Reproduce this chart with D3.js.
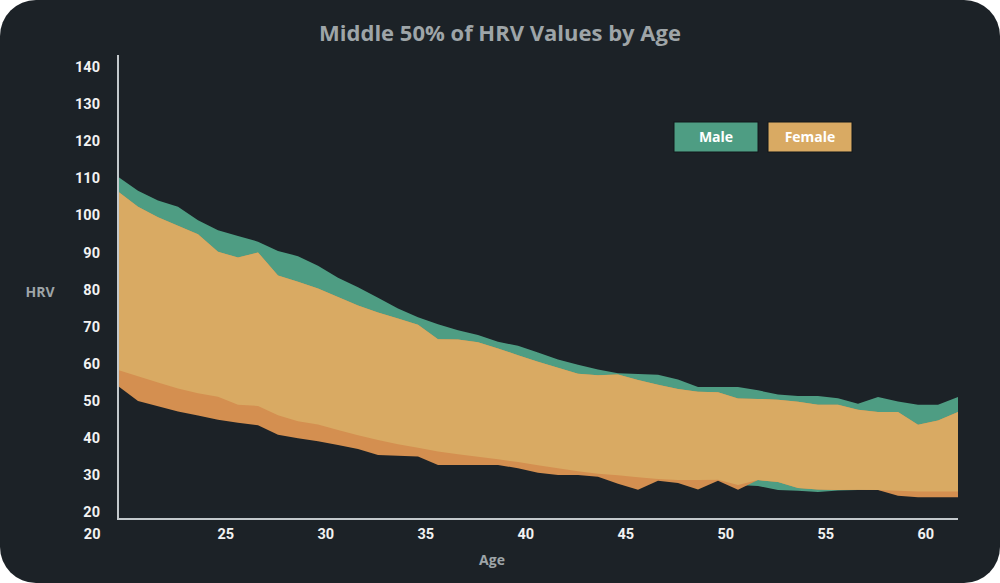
<!DOCTYPE html>
<html>
<head>
<meta charset="utf-8">
<script src="https://cdn.jsdelivr.net/npm/d3@7"></script>
<style>
  html, body { margin: 0; padding: 0; background: #ffffff; }
  #chart { width: 1000px; height: 583px; }
</style>
</head>
<body>
<div id="chart"></div>
<script>
// ages 20..62, middle 50% bounds
const ages = [20,21,22,23,24,25,26,27,28,29,30,31,32,33,34,35,36,37,38,39,40,
              41,42,43,44,45,46,47,48,49,50,51,52,53,54,55,56,57,58,59,60,61,62];

const maleHigh = [110.4,106.6,104.0,102.3,98.7,96.0,94.4,92.9,90.4,89.0,86.4,83.2,80.6,77.8,74.9,72.5,70.6,69.0,67.7,65.9,64.8,
                  63.0,61.1,59.7,58.4,57.4,57.2,57.0,55.7,53.7,53.7,53.7,52.8,51.7,51.3,51.3,50.7,49.2,51.0,49.8,48.9,48.9,51.0];
const maleLow  = [58.3,56.6,54.9,53.3,52.0,51.1,48.9,48.6,46.1,44.5,43.6,42.1,40.7,39.4,38.3,37.3,36.3,35.6,34.9,34.2,33.5,
                  32.6,31.8,31.0,30.3,29.9,29.4,28.9,28.6,28.6,28.7,27.3,27.0,25.9,25.7,25.4,25.8,25.9,25.9,25.7,25.5,25.5,25.5];
const femaleHigh = [106.4,102.3,99.5,97.2,94.9,90.2,88.6,90.0,83.8,82.1,80.3,78.0,75.7,73.8,72.2,70.5,66.6,66.5,65.8,64.1,62.3,
                    60.5,58.9,57.3,56.9,57.1,55.6,54.3,53.2,52.4,52.3,50.6,50.5,50.3,49.7,48.9,48.9,47.6,47.0,47.0,43.5,44.7,47.0];
const femaleLow  = [54.0,49.9,48.5,47.1,46.0,44.9,44.1,43.4,40.8,39.9,39.1,38.1,37.0,35.4,35.2,35.0,32.7,32.7,32.7,32.7,31.8,
                    30.6,30.0,30.0,29.5,27.6,26.0,28.4,27.8,26.1,28.4,26.0,28.6,28.1,26.5,26.1,25.9,26.0,25.9,24.4,24.0,24.0,24.0];

const yTicks = [20,30,40,50,60,70,80,90,100,110,120,130,140];
const xTicks = [20,25,30,35,40,45,50,55,60];

const COLORS = { bg: "#1c2227", male: "#4e9d83", female: "#d48f50", both: "#d9aa63",
                 axis: "#c3c9cc", title: "#9ea5a8", tick: "#f2f2f2" };

const W = 1000, H = 583;
const plotLeft = 118, plotRight = 958, plotTop = 55, plotBottom = 519;

const svg = d3.select("#chart").append("svg")
  .attr("width", W).attr("height", H);

// dark card with rounded corners
svg.append("rect")
  .attr("width", W).attr("height", H)
  .attr("rx", 36).attr("ry", 36)
  .attr("fill", COLORS.bg);

const x = d3.scaleLinear().domain([20, 62]).range([plotLeft, plotRight]);
const y = d3.scaleLinear().domain([20, 140]).range([512, 67]);

const rows = ages.map((a, i) => ({
  age: a, mL: maleLow[i], mH: maleHigh[i], fL: femaleLow[i], fH: femaleHigh[i]
}));

const band = (lo, hi) => d3.area()
  .x(d => x(d.age))
  .y0(d => y(lo(d)))
  .y1(d => y(hi(d)));

// male band, female band, then the overlap on top
svg.append("path").datum(rows)
  .attr("fill", COLORS.male)
  .attr("d", band(d => d.mL, d => d.mH));

svg.append("path").datum(rows)
  .attr("fill", COLORS.female)
  .attr("d", band(d => d.fL, d => d.fH));

svg.append("path").datum(rows)
  .attr("fill", COLORS.both)
  .attr("d", band(d => Math.max(d.mL, d.fL), d => Math.min(d.mH, d.fH)));

// axes
const tickFont = "Roboto, 'Noto Sans', sans-serif";

const gy = svg.append("g")
  .attr("transform", `translate(${plotLeft},0)`)
  .call(d3.axisLeft(y).tickValues(yTicks).tickSize(0).tickPadding(18));
gy.select(".domain").remove();
gy.selectAll("text")
  .attr("fill", COLORS.tick)
  .attr("font-family", tickFont)
  .attr("font-weight", 700)
  .attr("font-size", "14.5px");

const gx = svg.append("g")
  .attr("transform", `translate(0,${plotBottom})`)
  .call(d3.axisBottom(x).tickValues(xTicks).tickSize(0).tickPadding(10));
gx.select(".domain").remove();
gx.selectAll("text")
  .attr("fill", COLORS.tick)
  .attr("font-family", tickFont)
  .attr("font-weight", 700)
  .attr("font-size", "14.5px")
  .attr("text-anchor", d => d === 20 ? "end" : "start")
  .attr("dx", d => d === 20 ? -18 : -1);

svg.append("line")
  .attr("x1", plotLeft).attr("x2", plotLeft)
  .attr("y1", plotTop).attr("y2", plotBottom)
  .attr("stroke", COLORS.axis).attr("stroke-width", 2);
svg.append("line")
  .attr("x1", plotLeft - 1).attr("x2", plotRight)
  .attr("y1", plotBottom).attr("y2", plotBottom)
  .attr("stroke", COLORS.axis).attr("stroke-width", 2);

// title and axis labels
svg.append("text")
  .attr("x", 500).attr("y", 41)
  .attr("text-anchor", "middle")
  .attr("fill", COLORS.title)
  .attr("font-family", "'Open Sans', Lato, sans-serif")
  .attr("font-weight", 700)
  .attr("font-size", "22px")
  .text("Middle 50% of HRV Values by Age");

svg.append("text")
  .attr("x", 40).attr("y", 297)
  .attr("text-anchor", "middle")
  .attr("fill", COLORS.title)
  .attr("font-family", "'Open Sans', Lato, sans-serif")
  .attr("font-weight", 700)
  .attr("font-size", "14px")
  .text("HRV");

svg.append("text")
  .attr("x", 492).attr("y", 565)
  .attr("text-anchor", "middle")
  .attr("fill", COLORS.title)
  .attr("font-family", "'Open Sans', Lato, sans-serif")
  .attr("font-weight", 700)
  .attr("font-size", "14px")
  .text("Age");

// legend
const legend = [
  { name: "Male", color: COLORS.male, x: 674 },
  { name: "Female", color: COLORS.both, x: 768 }
];
const lg = svg.append("g").selectAll("g").data(legend).enter().append("g")
  .attr("transform", d => `translate(${d.x},122)`);
lg.append("rect")
  .attr("width", 84).attr("height", 30)
  .attr("fill", d => d.color)
  .attr("stroke", "#11161a").attr("stroke-width", 1);
lg.append("text")
  .attr("x", 42).attr("y", 20)
  .attr("text-anchor", "middle")
  .attr("fill", "#ffffff")
  .attr("font-family", "'Open Sans', Lato, sans-serif")
  .attr("font-weight", 700)
  .attr("font-size", "14px")
  .text(d => d.name);
</script>
</body>
</html>
